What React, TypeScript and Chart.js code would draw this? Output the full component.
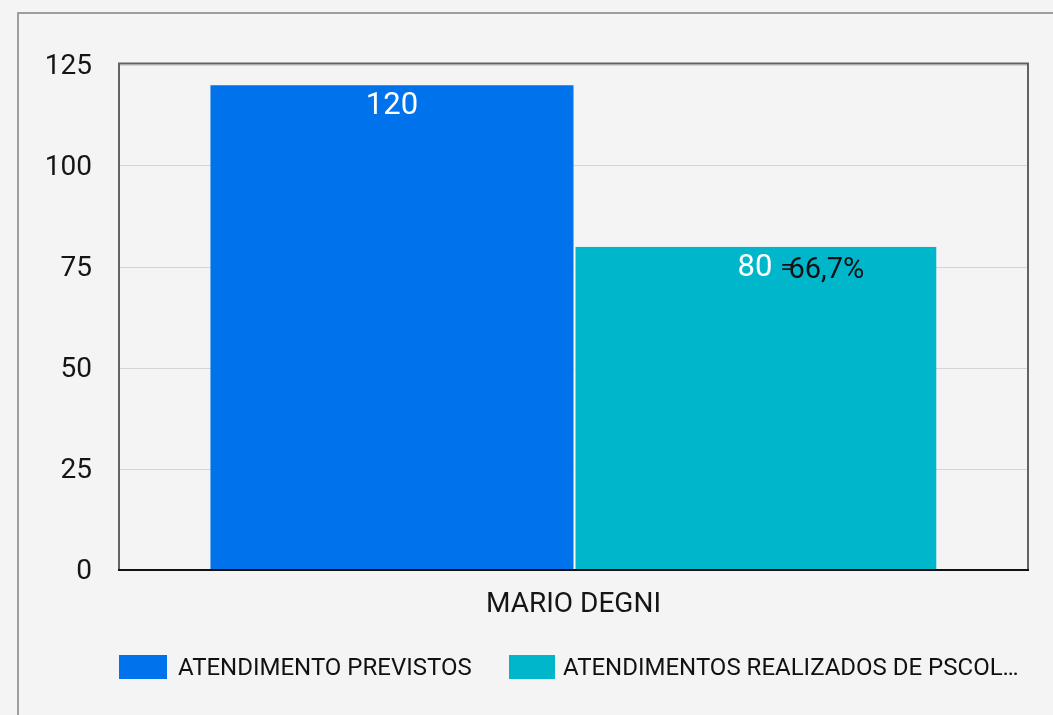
import React, { useEffect, useRef } from "react";
import { Chart, registerables } from "chart.js";

Chart.register(...registerables);

const categories = ["MARIO DEGNI"];
const previstos = [120];
const realizados = [80];
const seriesNames = ["ATENDIMENTO PREVISTOS", "ATENDIMENTOS REALIZADOS DE PSCOL…"];
const seriesColors = ["#0072EC", "#00B6CB"];
const yTicks = [0, 25, 50, 75, 100, 125];

const FONT = "Roboto, 'Noto Sans', sans-serif";

const framePlugin = {
  id: "frame",
  afterDatasetsDraw(chart: any) {
    const { ctx, chartArea } = chart;
    const { left, right, top, bottom } = chartArea;
    ctx.save();
    ctx.strokeStyle = "#5f6368";
    ctx.lineWidth = 2;
    ctx.beginPath();
    ctx.moveTo(left + 1, bottom);
    ctx.lineTo(left + 1, top - 1.5);
    ctx.lineTo(right - 1, top - 1.5);
    ctx.lineTo(right - 1, bottom);
    ctx.stroke();
    ctx.strokeStyle = "#111111";
    ctx.lineWidth = 2;
    ctx.beginPath();
    ctx.moveTo(left, bottom);
    ctx.lineTo(right, bottom);
    ctx.stroke();
    ctx.restore();
  },
};

const labelPlugin = {
  id: "valueLabels",
  afterDatasetsDraw(chart: any) {
    const { ctx } = chart;
    ctx.save();
    ctx.textBaseline = "middle";
    chart.data.datasets.forEach((ds: any, di: number) => {
      const meta = chart.getDatasetMeta(di);
      meta.data.forEach((bar: any, i: number) => {
        const v = ds.data[i];
        const txt = String(v);
        ctx.font = `31px ${FONT}`;
        ctx.fillStyle = "#ffffff";
        ctx.textAlign = "center";
        const cy = bar.y + 21;
        ctx.fillText(txt, bar.x, cy);
        if (di === 1) {
          const w = ctx.measureText(txt).width;
          const pct = (realizados[i] / previstos[i]) * 100;
          const pctTxt = pct.toFixed(1).replace(".", ",") + "%";
          ctx.textAlign = "left";
          ctx.fillStyle = "#111111";
          ctx.font = `22px ${FONT}`;
          const ex = bar.x + w / 2 + 8;
          ctx.fillText("=", ex, cy + 1);
          ctx.font = `29px ${FONT}`;
          ctx.fillText(pctTxt, ex + 8, cy + 3);
        }
      });
    });
    ctx.restore();
  },
};

function ChartView() {
  const ref = useRef<HTMLCanvasElement | null>(null);
  useEffect(() => {
    if (!ref.current) return;
    const chart = new Chart(ref.current, {
      type: "bar",
      data: {
        labels: categories,
        datasets: [
          {
            label: seriesNames[0],
            data: previstos,
            backgroundColor: seriesColors[0],
            borderWidth: 0,
          },
          {
            label: seriesNames[1],
            data: realizados,
            backgroundColor: seriesColors[1],
            borderColor: "#ffffff",
            borderWidth: { left: 2, top: 0, right: 0, bottom: 0 },
            borderSkipped: false,
          },
        ],
      },
      options: {
        responsive: false,
        animation: false,
        maintainAspectRatio: false,
        layout: { padding: { left: 0, right: 24, top: 65, bottom: 0 } },
        datasets: { bar: { barPercentage: 1, categoryPercentage: 0.797 } },
        plugins: {
          legend: { display: false },
          tooltip: { enabled: false },
        },
        scales: {
          x: {
            grid: { display: false, drawTicks: false },
            border: { display: false },
            ticks: {
              color: "#151515",
              font: { family: FONT, size: 28 },
              padding: 18,
            },
            afterFit(scale: any) {
              scale.height = 145;
            },
          },
          y: {
            min: 0,
            max: 125,
            grid: { color: "#d4d4d4", lineWidth: 1, drawTicks: false },
            border: { display: false },
            afterBuildTicks(scale: any) {
              scale.ticks = yTicks.map((v) => ({ value: v }));
            },
            ticks: {
              color: "#151515",
              font: { family: FONT, size: 28 },
              padding: 26,
              labelOffset: 2,
            },
            afterFit(scale: any) {
              scale.width = 118;
            },
          },
        },
      },
      plugins: [framePlugin, labelPlugin],
    } as any);
    return () => chart.destroy();
  }, []);
  return (
    <canvas
      ref={ref}
      width={1053}
      height={715}
      style={{ position: "absolute", left: 0, top: 0, width: 1053, height: 715 }}
    />
  );
}

export default function App() {
  const legendItems = [
    { box: 119, boxW: 48, text: 178 },
    { box: 509, boxW: 46, text: 563 },
  ];
  return (
    <div
      style={{
        position: "fixed",
        left: 0,
        top: 0,
        width: 1053,
        height: 715,
        background: "#f4f4f4",
        overflow: "hidden",
        fontFamily: FONT,
      }}
    >
      <div
        style={{
          position: "absolute",
          left: 17,
          top: 12,
          width: 1200,
          height: 900,
          border: "2px solid #9e9e9e",
          boxSizing: "border-box",
        }}
      />
      <ChartView />
      {legendItems.map((it, i) => (
        <React.Fragment key={i}>
          <div
            style={{
              position: "absolute",
              left: it.box,
              top: 655,
              width: it.boxW,
              height: 24,
              background: seriesColors[i],
            }}
          />
          <div
            style={{
              position: "absolute",
              left: it.text,
              top: 652,
              height: 30,
              lineHeight: "30px",
              fontSize: 24,
              color: "#111111",
              whiteSpace: "nowrap",
            }}
          >
            {seriesNames[i]}
          </div>
        </React.Fragment>
      ))}
    </div>
  );
}
